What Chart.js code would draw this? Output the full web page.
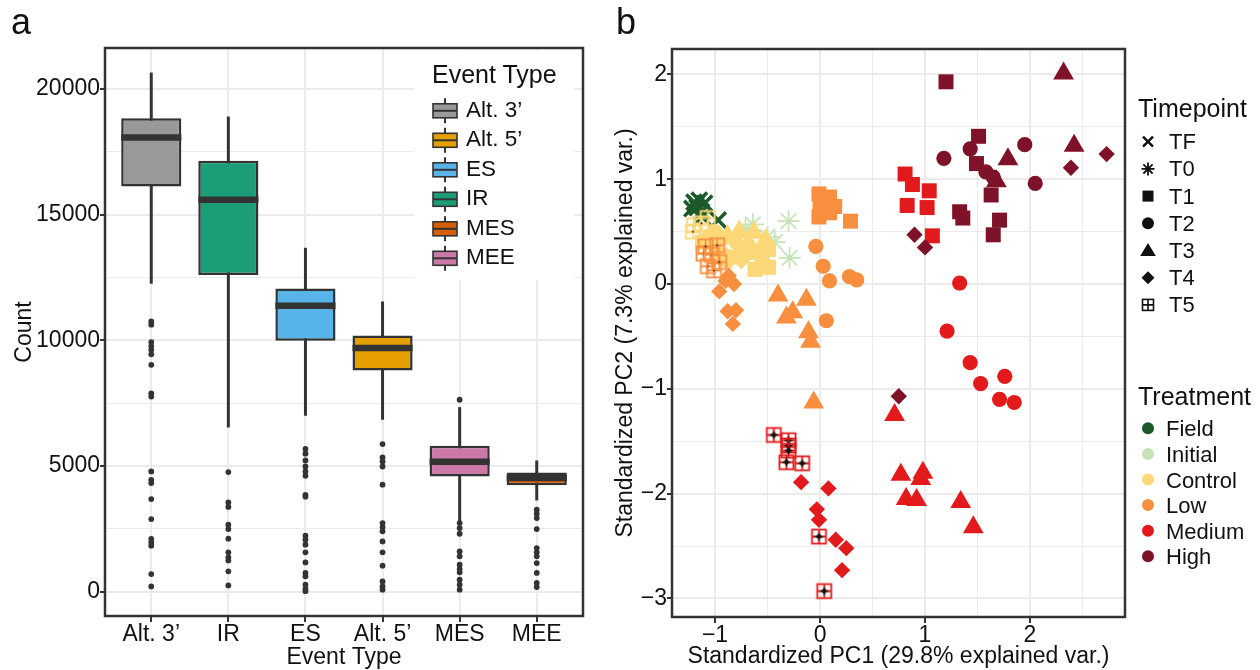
<!DOCTYPE html>
<html>
<head>
<meta charset="utf-8">
<title>Event types and PCA</title>
<script src="https://cdn.jsdelivr.net/npm/chart.js@4.4.1/dist/chart.umd.min.js"></script>
<style>
  html, body { margin: 0; padding: 0; background: #fff; }
  #page { position: relative; width: 1260px; height: 670px; overflow: hidden; }
  #boxCanvas { position: absolute; left: 0; top: 0; }
  #pcaCanvas { position: absolute; left: 600px; top: 0; }
  #overlay { position: absolute; left: 0; top: 0; pointer-events: none; }
  #overlay text { font-family: 'Liberation Sans', Arial, sans-serif; fill: #111; }
</style>
</head>
<body>
<div id="page">
  <canvas id="boxCanvas" width="600" height="670"></canvas>
  <canvas id="pcaCanvas" width="660" height="670"></canvas>
  <svg id="overlay" width="1260" height="670"></svg>
</div>
<script>
// ---- panel a : counts per event type ----
const eventTypes  = ['Alt. 3’', 'IR', 'ES', 'Alt. 5’', 'MES', 'MEE'];
const whiskerLow  = [12250, 6535, 7000, 6840, 2795, 3630];
const boxQ1       = [16115, 12600, 9980, 8800, 4585, 4230];
const boxMedian   = [18065, 15590, 11370, 9690, 5170, 4520];
const boxQ3       = [18835, 17140, 12060, 10190, 5805, 4745];
const whiskerHigh = [20650, 18900, 13680, 11545, 7340, 5220];

const outliersAlt3 = [10750, 10620, 9930, 9770, 9620, 9440, 9025, 7890, 7760, 4785, 4450, 4320, 3685, 2890, 2095, 1960, 1830, 700, 210];
const outliersIR   = [4760, 3550, 3370, 2665, 2490, 2110, 1565, 1365, 1245, 810, 250];
const outliersES   = [5675, 5490, 5220, 4980, 4785, 4610, 3855, 3780, 2225, 2070, 1870, 1565, 1165, 745, 610, 280, 110, 20];
const outliersAlt5 = [5870, 5340, 5180, 4980, 4255, 2730, 2570, 2400, 2000, 1565, 1035, 410, 210, 80];
const outliersMES  = [7635, 2730, 2530, 2305, 1600, 1405, 1075, 900, 770, 475, 280, 80];
const outliersMEE  = [3260, 3100, 2930, 2490, 1735, 1565, 1405, 1140, 745, 345, 185];
const outlierSets  = [outliersAlt3, outliersIR, outliersES, outliersAlt5, outliersMES, outliersMEE];

const countMajor = [0, 5000, 10000, 15000, 20000];
const countMinor = [2500, 7500, 12500, 17500];

const boxColors = ['#999999', '#1B9E77', '#56B4E9', '#E69F00', '#CC79A7', '#D55E00'];
const legendEvents = ['Alt. 3’', 'Alt. 5’', 'ES', 'IR', 'MES', 'MEE'];
const legendEventColors = ['#999999', '#E69F00', '#56B4E9', '#1B9E77', '#D55E00', '#CC79A7'];

// ---- panel b : PCA scores ----
const pc1Major = [-1, 0, 1, 2];
const pc1Minor = [-0.5, 0.5, 1.5, 2.5];
const pc2Major = [-3, -2, -1, 0, 1, 2];
const pc2Minor = [-2.5, -1.5, -0.5, 0.5, 1.5];

const timepoints = ['TF', 'T0', 'T1', 'T2', 'T3', 'T4', 'T5'];
const treatments = ['Field', 'Initial', 'Control', 'Low', 'Medium', 'High'];
const treatmentColors = ['#1D5A2B', '#C5E3B6', '#FDD878', '#F78F3F', '#E31A1C', '#7E1228'];

const fieldTF   = [[-1.20, 0.78], [-1.15, 0.80], [-1.17, 0.73], [-1.10, 0.77], [-1.22, 0.72], [-1.13, 0.69], [-1.12, 0.64], [-0.97, 0.61], [-1.18, 0.76]];
const initialT0 = [[-0.71, 0.53], [-0.64, 0.57], [-0.30, 0.60], [-0.43, 0.40], [-0.29, 0.25], [-0.50, 0.45]];
const controlT1 = [[-0.49, 0.33], [-0.49, 0.16], [-0.62, 0.14], [-0.55, 0.24], [-0.70, 0.30], [-0.83, 0.26], [-1.12, 0.40], [-0.95, 0.28]];
const controlT2 = [[-0.92, 0.44], [-0.80, 0.40], [-0.68, 0.37], [-1.00, 0.50], [-0.58, 0.30]];
const controlT3 = [[-0.77, 0.50], [-0.63, 0.49], [-0.52, 0.42], [-0.88, 0.46]];
const controlT4 = [[-1.07, 0.46], [-0.97, 0.40], [-0.75, 0.22], [-0.88, 0.20]];
const controlT5 = [[-1.20, 0.56], [-1.07, 0.63], [-1.21, 0.50], [-1.13, 0.58]];
const lowT1 = [[-0.01, 0.86], [0.09, 0.83], [0.00, 0.72], [0.14, 0.74], [-0.01, 0.64], [0.09, 0.68], [0.29, 0.60]];
const lowT2 = [[-0.04, 0.36], [0.03, 0.17], [0.09, 0.03], [0.28, 0.07], [0.35, 0.04], [0.06, -0.35]];
const lowT3 = [[-0.40, -0.11], [-0.13, -0.15], [-0.26, -0.27], [-0.32, -0.32], [-0.11, -0.46], [-0.09, -0.55], [-0.06, -1.13]];
const lowT4 = [[-0.87, 0.08], [-0.82, 0.00], [-0.96, -0.07], [-0.90, 0.03], [-0.88, -0.26], [-0.80, -0.25], [-0.83, -0.38]];
const lowT5 = [[-1.11, 0.29], [-0.98, 0.37], [-1.03, 0.28], [-1.07, 0.17], [-1.01, 0.13], [-0.96, 0.21], [-1.09, 0.36]];
const mediumT1 = [[0.81, 1.05], [0.88, 0.95], [1.04, 0.89], [0.83, 0.75], [1.02, 0.73], [1.07, 0.46]];
const mediumT2 = [[1.33, 0.01], [1.21, -0.45], [1.43, -0.75], [1.53, -0.95], [1.76, -0.88], [1.71, -1.10], [1.85, -1.13]];
const mediumT3 = [[0.71, -1.25], [0.77, -1.82], [0.98, -1.80], [0.96, -1.86], [0.82, -2.05], [0.92, -2.06], [1.34, -2.08], [1.46, -2.32]];
const mediumT4 = [[-0.18, -1.89], [0.08, -1.95], [-0.03, -2.15], [-0.01, -2.25], [0.15, -2.44], [0.25, -2.52], [0.21, -2.73]];
const mediumT5 = [[-0.44, -1.44], [-0.30, -1.49], [-0.30, -1.54], [-0.30, -1.59], [-0.32, -1.70], [-0.17, -1.71], [-0.01, -2.41], [0.04, -2.93]];
const highT1 = [[1.20, 1.93], [1.51, 1.41], [1.49, 1.15], [1.63, 0.85], [1.33, 0.69], [1.36, 0.63], [1.71, 0.61], [1.65, 0.47]];
const highT2 = [[1.18, 1.20], [1.43, 1.29], [1.95, 1.33], [2.05, 0.96], [1.58, 1.07], [1.65, 1.02]];
const highT3 = [[2.32, 2.01], [2.42, 1.32], [1.79, 1.19], [1.68, 0.98]];
const highT4 = [[2.73, 1.24], [2.39, 1.11], [0.90, 0.47], [1.00, 0.35], [0.75, -1.07]];

// bottom layer first: [points, treatment index, timepoint]
const layers = [
  [initialT0, 1, 'T0'], [fieldTF, 0, 'TF'],
  [controlT2, 2, 'T2'], [controlT3, 2, 'T3'], [controlT4, 2, 'T4'], [controlT1, 2, 'T1'], [controlT5, 2, 'T5'],
  [lowT5, 3, 'T5'], [lowT4, 3, 'T4'], [lowT1, 3, 'T1'], [lowT2, 3, 'T2'], [lowT3, 3, 'T3'],
  [mediumT1, 4, 'T1'], [mediumT2, 4, 'T2'], [mediumT3, 4, 'T3'], [mediumT4, 4, 'T4'], [mediumT5, 4, 'T5'],
  [highT1, 5, 'T1'], [highT2, 5, 'T2'], [highT3, 5, 'T3'], [highT4, 5, 'T4']
];

Chart.defaults.font.family = "'Liberation Sans', Arial, sans-serif";
Chart.defaults.color = '#111';

const GRID = '#EBEBEB';
const INK = '#333333';

const panelBorder = {
  id: 'panelBorder',
  afterDraw(chart) {
    const {ctx, chartArea: a} = chart;
    ctx.save();
    ctx.strokeStyle = INK;
    ctx.lineWidth = 2.5;
    ctx.strokeRect(a.left, a.top, a.right - a.left, a.bottom - a.top);
    ctx.restore();
  }
};

const medianLines = {
  id: 'medianLines',
  afterDatasetsDraw(chart) {
    const {ctx, scales: {y}} = chart;
    const meta = chart.getDatasetMeta(1);
    ctx.save();
    ctx.strokeStyle = INK;
    ctx.lineWidth = 6.5;
    boxMedian.forEach((m, i) => {
      const bar = meta.data[i];
      const py = y.getPixelForValue(m);
      ctx.beginPath();
      ctx.moveTo(bar.x - bar.width / 2, py);
      ctx.lineTo(bar.x + bar.width / 2, py);
      ctx.stroke();
    });
    ctx.restore();
  }
};

function isMajor(ctx, majors) {
  return ctx.tick && majors.includes(ctx.tick.value);
}

const outlierPoints = outlierSets.flatMap((set, i) => set.map(v => ({x: i + 1, y: v})));

new Chart(document.getElementById('boxCanvas'), {
  type: 'bar',
  data: {
    datasets: [
      {
        type: 'scatter',
        data: outlierPoints,
        pointRadius: 2.9,
        pointBackgroundColor: INK,
        pointBorderWidth: 0,
        order: 1
      },
      {
        type: 'bar',
        data: eventTypes.map((_, i) => ({x: i + 1, y: [boxQ1[i], boxQ3[i]]})),
        backgroundColor: boxColors,
        borderColor: INK,
        borderWidth: 2.5,
        borderSkipped: false,
        grouped: false,
        barPercentage: 0.78,
        categoryPercentage: 1,
        order: 2
      },
      {
        type: 'bar',
        data: eventTypes.map((_, i) => ({x: i + 1, y: [whiskerLow[i], whiskerHigh[i]]})),
        backgroundColor: INK,
        borderWidth: 0,
        grouped: false,
        maxBarThickness: 3,
        order: 3
      }
    ]
  },
  options: {
    responsive: false,
    animation: false,
    events: [],
    layout: {padding: {left: 0, top: 48, right: 17, bottom: 0}},
    plugins: {legend: {display: false}, tooltip: {enabled: false}},
    scales: {
      x: {
        type: 'linear',
        min: 0.4,
        max: 6.6,
        bounds: 'data',
        offset: false,
        afterBuildTicks: s => { s.ticks = eventTypes.map((_, i) => ({value: i + 1})); },
        afterFit: s => { s.height = 54; },
        ticks: {
          callback: v => eventTypes[v - 1],
          font: {size: 23, lineHeight: 1},
          color: '#111',
          padding: 1.5,
          maxRotation: 0,
          autoSkip: false
        },
        grid: {color: GRID, lineWidth: 2, offset: false, tickColor: INK, tickLength: 6, tickWidth: 2},
        border: {display: false},
        title: {display: true, text: 'Event Type', color: '#111', font: {size: 23, lineHeight: 1}, padding: {top: 0, bottom: 0.5}}
      },
      y: {
        type: 'linear',
        min: -967,
        max: 21627,
        bounds: 'data',
        afterBuildTicks: s => { s.ticks = countMajor.concat(countMinor).sort((a, b) => a - b).map(v => ({value: v})); },
        afterFit: s => { s.width = 105; },
        ticks: {
          callback: v => countMajor.includes(v) ? String(v) : '',
          font: {size: 23},
          color: '#111',
          padding: 0
        },
        grid: {
          color: GRID,
          lineWidth: c => isMajor(c, countMajor) ? 2 : 1,
          tickColor: c => isMajor(c, countMajor) ? INK : 'rgba(0,0,0,0)',
          tickLength: 5,
          tickWidth: 2
        },
        border: {display: false},
        title: {display: true, text: 'Count', color: '#111', font: {size: 23, lineHeight: 1}, padding: {top: 13.5, bottom: 0}}
      }
    }
  },
  plugins: [medianLines, panelBorder]
});

// hollow square with a cross, used for T5
function gridSquare(color, centre) {
  const c = document.createElement('canvas');
  c.width = 19;
  c.height = 19;
  const g = c.getContext('2d');
  g.strokeStyle = color;
  g.lineWidth = 1.8;
  g.strokeRect(2.5, 2.5, 14, 14);
  g.beginPath();
  g.moveTo(9.5, 2.5); g.lineTo(9.5, 16.5);
  g.moveTo(2.5, 9.5); g.lineTo(16.5, 9.5);
  g.stroke();
  g.fillStyle = '#111';
  g.beginPath();
  g.arc(9.5, 9.5, centre, 0, Math.PI * 2);
  g.fill();
  if (centre > 2) {
    g.strokeStyle = '#111';
    g.lineWidth = 1.4;
    g.beginPath();
    g.moveTo(9.5, 5.5); g.lineTo(9.5, 13.5);
    g.moveTo(5.5, 9.5); g.lineTo(13.5, 9.5);
    g.stroke();
  }
  return c;
}

function markerFor(tp, color, tIndex) {
  switch (tp) {
    case 'TF': return {pointStyle: 'crossRot', pointRadius: 11, pointBorderColor: color, pointBorderWidth: 3.5};
    case 'T0': return {pointStyle: 'star', pointRadius: 11, pointBorderColor: color, pointBorderWidth: 1.7};
    case 'T1': return {pointStyle: 'rect', pointRadius: 10.6, pointBackgroundColor: color, pointBorderWidth: 0};
    case 'T2': return {pointStyle: 'circle', pointRadius: 7.6, pointBackgroundColor: color, pointBorderWidth: 0};
    case 'T3': return {pointStyle: 'triangle', pointRadius: 12, pointBackgroundColor: color, pointBorderWidth: 0};
    case 'T4': return {pointStyle: 'rectRot', pointRadius: 8.2, pointBackgroundColor: color, pointBorderWidth: 0};
    default:   return {pointStyle: gridSquare(color, tIndex === 4 ? 2.4 : 1), pointRadius: 9};
  }
}

const pcaDatasets = layers.map(([pts, t, tp], i) => Object.assign({
  data: pts.map(([x, y]) => ({x, y})),
  order: layers.length - i
}, markerFor(tp, treatmentColors[t], t)));

const signed = v => v < 0 ? '\u2212' + Math.abs(v) : String(v);

new Chart(document.getElementById('pcaCanvas'), {
  type: 'scatter',
  data: {datasets: pcaDatasets},
  options: {
    responsive: false,
    animation: false,
    events: [],
    layout: {padding: {left: 0, top: 49, right: 135, bottom: 0}},
    plugins: {legend: {display: false}, tooltip: {enabled: false}},
    scales: {
      x: {
        type: 'linear',
        min: -1.41,
        max: 2.905,
        bounds: 'data',
        afterBuildTicks: s => { s.ticks = pc1Major.concat(pc1Minor).sort((a, b) => a - b).map(v => ({value: v})); },
        afterFit: s => { s.height = 53; },
        ticks: {
          callback: v => pc1Major.includes(v) ? signed(v) : '',
          font: {size: 23, lineHeight: 1},
          color: '#111',
          padding: 1.5,
          maxRotation: 0,
          autoSkip: false
        },
        grid: {
          color: GRID,
          lineWidth: c => isMajor(c, pc1Major) ? 2 : 1,
          tickColor: c => isMajor(c, pc1Major) ? INK : 'rgba(0,0,0,0)',
          tickLength: 6,
          tickWidth: 2
        },
        border: {display: false},
        title: {display: true, text: 'Standardized PC1 (29.8% explained var.)', color: '#111', font: {size: 23, lineHeight: 1}, padding: {top: 0, bottom: 1.5}}
      },
      y: {
        type: 'linear',
        min: -3.177,
        max: 2.243,
        bounds: 'data',
        afterBuildTicks: s => { s.ticks = pc2Major.concat(pc2Minor).sort((a, b) => a - b).map(v => ({value: v})); },
        afterFit: s => { s.width = 72; },
        ticks: {
          callback: v => pc2Major.includes(v) ? signed(v) : '',
          font: {size: 23},
          color: '#111',
          padding: 0
        },
        grid: {
          color: GRID,
          lineWidth: c => isMajor(c, pc2Major) ? 2 : 1,
          tickColor: c => isMajor(c, pc2Major) ? INK : 'rgba(0,0,0,0)',
          tickLength: 5,
          tickWidth: 2
        },
        border: {display: false},
        title: {display: true, text: 'Standardized PC2 (7.3% explained var.)', color: '#111', font: {size: 23, lineHeight: 1}, padding: {top: 14.5, bottom: 0}}
      }
    }
  },
  plugins: [panelBorder]
});

// ---- legends and panel letters (svg text) ----
const overlay = document.getElementById('overlay');
function add(tag, attrs, text) {
  const el = document.createElementNS('http://www.w3.org/2000/svg', tag);
  for (const k in attrs) el.setAttribute(k, attrs[k]);
  if (text !== undefined) el.textContent = text;
  overlay.appendChild(el);
  return el;
}

add('text', {x: 11, y: 34, 'font-size': 36}, 'a');
add('text', {x: 616, y: 34, 'font-size': 36}, 'b');

// event type legend, inside panel a
add('rect', {x: 414, y: 50, width: 160, height: 230, fill: '#fff'});
add('text', {x: 432, y: 83, 'font-size': 25}, 'Event Type');
legendEvents.forEach((name, i) => {
  const base = 116.8 + 29.5 * i;
  const cy = base - 6;
  add('line', {x1: 445, x2: 445, y1: cy - 12.5, y2: cy + 12.5, stroke: INK, 'stroke-width': 2});
  add('rect', {x: 433, y: cy - 7, width: 24, height: 14, fill: legendEventColors[i], stroke: INK, 'stroke-width': 1.6});
  add('line', {x1: 433, x2: 457, y1: cy, y2: cy, stroke: INK, 'stroke-width': 2});
  add('text', {x: 466, y: base, 'font-size': 22.5}, name);
});

// timepoint legend
add('text', {x: 1138, y: 117, 'font-size': 25}, 'Timepoint');
timepoints.forEach((tp, i) => {
  const cy = 141.7 + 27.2 * i;
  const x = 1148;
  const k = '#111';
  if (tp === 'TF') {
    add('path', {d: `M${x - 5} ${cy - 5}L${x + 5} ${cy + 5}M${x - 5} ${cy + 5}L${x + 5} ${cy - 5}`, stroke: k, 'stroke-width': 2.4});
  } else if (tp === 'T0') {
    add('path', {d: `M${x} ${cy - 6.5}V${cy + 6.5}M${x - 6.5} ${cy}H${x + 6.5}M${x - 4.6} ${cy - 4.6}L${x + 4.6} ${cy + 4.6}M${x - 4.6} ${cy + 4.6}L${x + 4.6} ${cy - 4.6}`, stroke: k, 'stroke-width': 1.8});
  } else if (tp === 'T1') {
    add('rect', {x: x - 5.5, y: cy - 5.5, width: 11, height: 11, fill: k});
  } else if (tp === 'T2') {
    add('circle', {cx: x, cy: cy, r: 6, fill: k});
  } else if (tp === 'T3') {
    add('path', {d: `M${x} ${cy - 7.5}L${x + 7.8} ${cy + 5.5}L${x - 7.8} ${cy + 5.5}Z`, fill: k});
  } else if (tp === 'T4') {
    add('path', {d: `M${x} ${cy - 6.5}L${x + 6.5} ${cy}L${x} ${cy + 6.5}L${x - 6.5} ${cy}Z`, fill: k});
  } else {
    add('rect', {x: x - 5.5, y: cy - 5.5, width: 11, height: 11, fill: 'none', stroke: k, 'stroke-width': 1.6});
    add('path', {d: `M${x} ${cy - 5.5}V${cy + 5.5}M${x - 5.5} ${cy}H${x + 5.5}`, stroke: k, 'stroke-width': 1.6});
  }
  add('text', {x: 1169, y: cy + 7.5, 'font-size': 22}, tp);
});

// treatment legend
add('text', {x: 1138, y: 405, 'font-size': 25}, 'Treatment');
treatments.forEach((name, i) => {
  const cy = 428.3 + 25.6 * i;
  add('circle', {cx: 1148, cy: cy, r: 6, fill: treatmentColors[i]});
  add('text', {x: 1166, y: cy + 8, 'font-size': 22}, name);
});
</script>
</body>
</html>
